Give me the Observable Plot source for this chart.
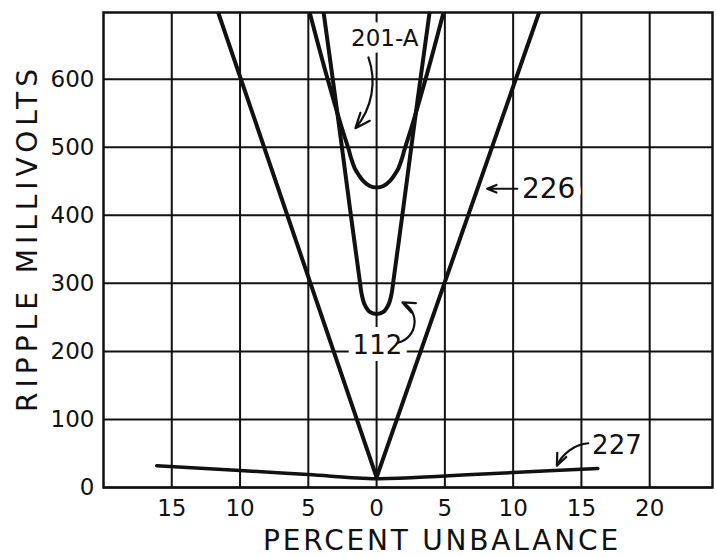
<!DOCTYPE html>
<html><head><meta charset="utf-8">
<script src="https://cdn.jsdelivr.net/npm/d3@7"></script>
<script src="https://cdn.jsdelivr.net/npm/@observablehq/plot@0.6"></script>
<style>body{margin:0;background:#fff}</style>
</head><body><div id="chart"></div>
<script>
// Axis ticks
const xTickValues = [-15, -10, -5, 0, 5, 10, 15, 20];
const xGridValues = [-15, -10, -5, 0, 5, 10, 15, 20];
const yTickValues = [0, 100, 200, 300, 400, 500, 600];

// Tube 226 (V shape)
const tube226X = [-11.6, 0, 11.9];
const tube226Y = [698, 15, 698];

// Tube 112 (narrow U)
const tube112X = [-3.88, -2.98, -2.52, -1.95, -1.22, -1.1, -0.88, -0.5, 0, 0.5, 0.88, 1.1, 1.22, 1.95, 2.52, 2.98, 3.88];
const tube112Y = [698, 566, 497, 410, 302, 285, 269, 258, 255, 258, 269, 285, 302, 410, 497, 566, 698];

// Tube 201-A (wider U, higher floor)
const tube201X = [-4.9, -4.0, -3.1, -2.6, -2.05, -1.85, -1.6, -1.3, -1.0, -0.5, 0, 0.5, 1.0, 1.3, 1.6, 1.85, 2.05, 2.6, 3.1, 4.0, 4.9];
const tube201Y = [698, 630, 566, 532, 497, 483, 469, 459, 451, 443, 441, 443, 451, 459, 469, 483, 497, 532, 566, 630, 698];

// Tube 227 (nearly flat)
const tube227X = [-16.1, -10, -5, 0, 5, 10, 16.2];
const tube227Y = [32, 25, 19, 13, 17, 22, 28];

// Curve labels and pointer arrows (data coordinates)
const labelText = ["201-A", "226", "112", "227"];
const labelX = [0.6, 12.6, 0.06, 17.6];
const labelY = [660, 439, 209, 62];
const arrowX1 = [-0.6, 10.3, 1.6, 15.5];
const arrowY1 = [632, 439, 213, 65];
const arrowX2 = [-1.55, 8.1, 1.89, 13.2];
const arrowY2 = [528, 439, 272, 32];
const arrowBend = [30, 0, -70, -30];

const xTitle = "PERCENT UNBALANCE";
const yTitle = "RIPPLE MILLIVOLTS";

const labelSizes = [23, 28, 26, 26];

const idx = n => d3.range(n);
const ink = "#111";

const chart = Plot.plot({
  width: 717,
  height: 557,
  marginLeft: 103,
  marginRight: 5,
  marginTop: 12,
  marginBottom: 70,
  style: {fontFamily: "DejaVu Sans", color: ink, background: "white", overflow: "visible"},
  x: {domain: [-20, 24.6], range: [103, 712]},
  y: {domain: [0, 698]},
  marks: [
    Plot.ruleX(xGridValues, {stroke: ink, strokeWidth: 2, strokeOpacity: 1}),
    Plot.ruleY(yTickValues, {stroke: ink, strokeWidth: 2, strokeOpacity: 1}),
    Plot.frame({stroke: ink, strokeWidth: 2.5}),
    Plot.axisX({ticks: xTickValues, tickSize: 0, tickPadding: 12, fontSize: 23, tickFormat: d => Math.abs(d), label: null}),
    Plot.axisY({ticks: yTickValues, tickSize: 0, tickPadding: 9, fontSize: 23, label: null}),
    ...labelText.map((t, i) => Plot.text([t], {
      x: () => labelX[i], y: () => labelY[i], text: d => d,
      fontSize: labelSizes[i], fill: ink, stroke: "white", strokeWidth: 14,
      strokeLinejoin: "round", paintOrder: "stroke"
    })),
    Plot.line(idx(tube226X.length), {x: i => tube226X[i], y: i => tube226Y[i], stroke: ink, strokeWidth: 4, clip: true}),
    Plot.line(idx(tube112X.length), {x: i => tube112X[i], y: i => tube112Y[i], stroke: ink, strokeWidth: 4, curve: "catmull-rom", clip: true}),
    Plot.line(idx(tube201X.length), {x: i => tube201X[i], y: i => tube201Y[i], stroke: ink, strokeWidth: 4, curve: "catmull-rom", clip: true}),
    Plot.line(idx(tube227X.length), {x: i => tube227X[i], y: i => tube227Y[i], stroke: ink, strokeWidth: 3.5, curve: "catmull-rom", clip: true}),
    ...arrowBend.map((b, i) => Plot.arrow([i], {
      x1: () => arrowX1[i], y1: () => arrowY1[i], x2: () => arrowX2[i], y2: () => arrowY2[i],
      bend: b, stroke: ink, strokeWidth: 2.2, headLength: 11, headAngle: 45
    })),
    Plot.text([yTitle], {frameAnchor: "left", textAnchor: "middle", lineAnchor: "middle", rotate: -90, dx: -75, dy: -12, fontSize: 28, fill: ink}),
    Plot.text([xTitle], {frameAnchor: "bottom", textAnchor: "middle", lineAnchor: "bottom", dx: 34, dy: 62, fontSize: 28, fill: ink})
  ]
});
document.getElementById("chart").appendChild(chart);
const texts = d3.select(chart).selectAll("text");
texts.filter(function () { return this.textContent === yTitle; }).attr("letter-spacing", 5);
texts.filter(function () { return this.textContent === xTitle; }).attr("letter-spacing", 2.8);
</script>
</body></html>
